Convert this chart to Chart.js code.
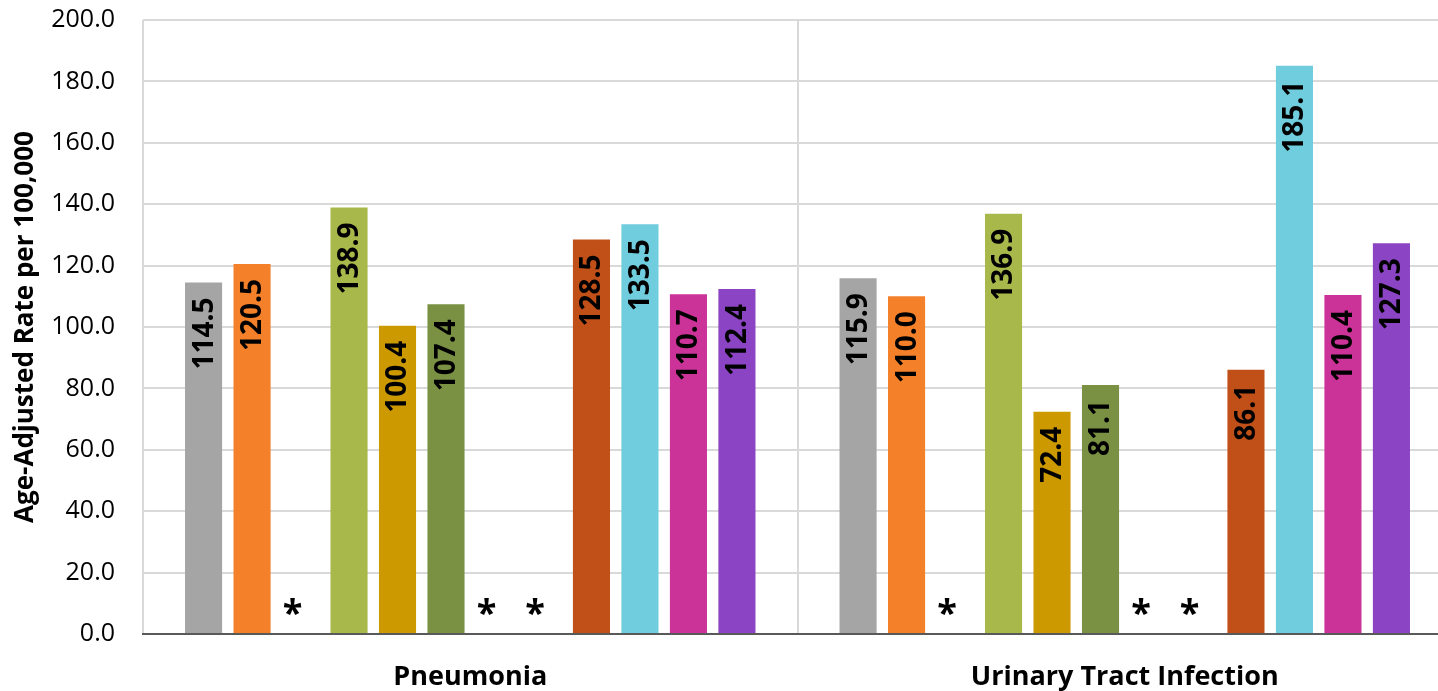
<!DOCTYPE html>
<html>
<head>
<meta charset="utf-8">
<script src="https://cdn.jsdelivr.net/npm/chart.js@4.4.1/dist/chart.umd.min.js"></script>
<style>
  html, body { margin: 0; padding: 0; background: #fff; overflow: hidden; }
  #wrap { width: 1453px; height: 691px; }
</style>
</head>
<body>
<div id="wrap"><canvas id="rateChart"></canvas></div>
<script>
// Categorías y valores (null = dato suprimido, se marca con *)
const categories = ['Pneumonia', 'Urinary Tract Infection'];
const seriesNames = ['Group 1', 'Group 2', 'Group 3', 'Group 4', 'Group 5', 'Group 6',
                     'Group 7', 'Group 8', 'Group 9', 'Group 10', 'Group 11', 'Group 12'];
const pneumonia = [114.5, 120.5, null, 138.9, 100.4, 107.4, null, null, 128.5, 133.5, 110.7, 112.4];
const uti       = [115.9, 110.0, null, 136.9, 72.4, 81.1, null, null, 86.1, 185.1, 110.4, 127.3];
const yTicks = [0, 20, 40, 60, 80, 100, 120, 140, 160, 180, 200];

const colors = ['#a5a5a5', '#f4812a', '#999999', '#a9b84a', '#cc9a00', '#7a9143',
                '#888888', '#777777', '#c05018', '#6fcddd', '#cc3399', '#8b44c4'];

const FONT = '"Open Sans", "DejaVu Sans", sans-serif';

// etiquetas verticales dentro de la barra y asteriscos para valores suprimidos
const barLabels = {
  id: 'barLabels',
  afterDatasetsDraw(chart) {
    const ctx = chart.ctx;
    const yScale = chart.scales.y;
    ctx.save();
    ctx.fillStyle = '#000';
    chart.data.datasets.forEach((ds, di) => {
      const meta = chart.getDatasetMeta(di);
      meta.data.forEach((bar, i) => {
        const v = ds.data[i];
        if (v === null) {
          ctx.font = 'bold 36px ' + FONT;
          ctx.textAlign = 'center';
          ctx.textBaseline = 'alphabetic';
          ctx.fillText('*', bar.x - 8, yScale.bottom - 9);
          return;
        }
        ctx.save();
        ctx.translate(bar.x, bar.y + 15);
        ctx.rotate(-Math.PI / 2);
        ctx.font = 'bold 28px ' + FONT;
        ctx.textAlign = 'right';
        ctx.textBaseline = 'middle';
        ctx.fillText(v.toFixed(1), 0, 1);
        ctx.restore();
      });
    });
    ctx.restore();
  }
};

const ctx = document.getElementById('rateChart').getContext('2d');

new Chart(ctx, {
  type: 'bar',
  data: {
    labels: categories,
    datasets: seriesNames.map((name, i) => ({
      label: name,
      data: [pneumonia[i], uti[i]],
      backgroundColor: colors[i],
      borderWidth: 0,
      categoryPercentage: 0.889,
      barPercentage: 0.765
    }))
  },
  options: {
    responsive: true,
    maintainAspectRatio: false,
    animation: false,
    layout: { padding: { top: 0, right: 1, bottom: 0, left: 0 } },
    plugins: {
      legend: { display: false },
      tooltip: { enabled: false }
    },
    scales: {
      x: {
        offset: true,
        afterFit(scale) { scale.height = 57; },
        grid: {
          offset: true,
          color: '#d9d9d9',
          lineWidth: 2,
          drawTicks: false
        },
        border: { color: '#595959', width: 2 },
        ticks: {
          color: '#000',
          padding: 27,
          font: { family: FONT, size: 27, weight: 'bold' }
        }
      },
      y: {
        min: 0,
        max: 200,
        afterFit(scale) { scale.width = 143; scale.paddingTop = 20; },
        afterBuildTicks(scale) { scale.ticks = yTicks.map(v => ({ value: v })); },
        grid: { color: '#d9d9d9', lineWidth: 2, drawTicks: false },
        border: { display: false },
        ticks: {
          color: '#000',
          padding: 28,
          font: { family: FONT, size: 25 },
          callback: v => v.toFixed(1)
        },
        title: {
          display: true,
          text: 'Age-Adjusted Rate per 100,000',
          color: '#000',
          padding: { top: 10, bottom: 0 },
          font: { family: FONT, size: 26, weight: 'bold' }
        }
      }
    }
  },
  plugins: [barLabels]
});
</script>
</body>
</html>
